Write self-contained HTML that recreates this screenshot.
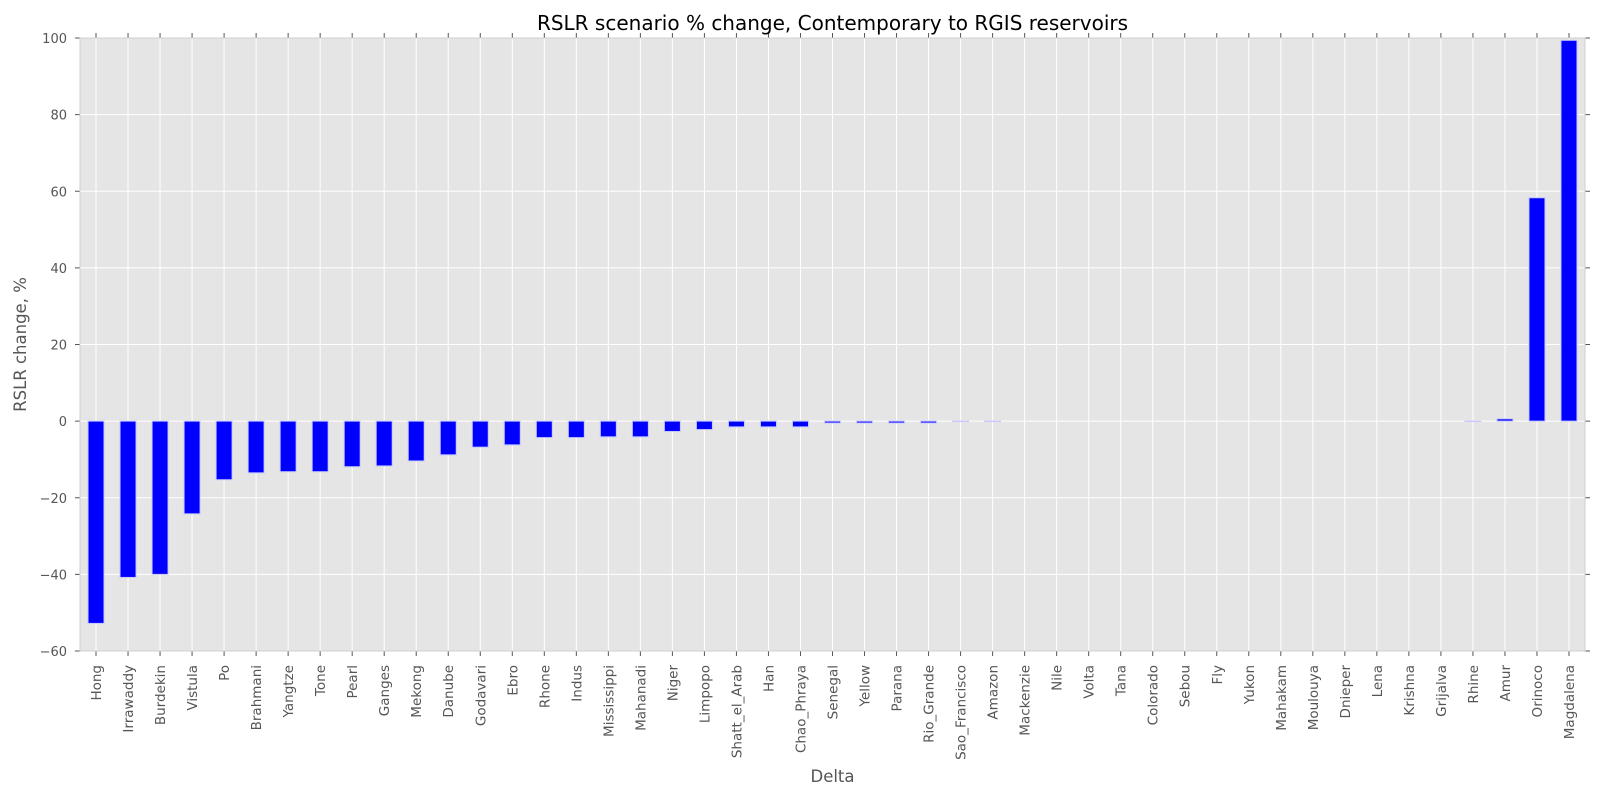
<!DOCTYPE html>
<html><head><meta charset="utf-8"><style>
html,body{margin:0;padding:0;background:#fff;overflow:hidden;width:1600px;height:800px;}
svg{display:block;}
svg text{font-family:"DejaVu Sans","Liberation Sans",sans-serif;}
</style></head><body>
<svg id="chart" width="1600" height="800" xmlns="http://www.w3.org/2000/svg"></svg>
<script>
const categories=["Hong","Irrawaddy","Burdekin","Vistula","Po","Brahmani","Yangtze","Tone","Pearl","Ganges","Mekong","Danube","Godavari","Ebro","Rhone","Indus","Mississippi","Mahanadi","Niger","Limpopo","Shatt_el_Arab","Han","Chao_Phraya","Senegal","Yellow","Parana","Rio_Grande","Sao_Francisco","Amazon","Mackenzie","Nile","Volta","Tana","Colorado","Sebou","Fly","Yukon","Mahakam","Moulouya","Dnieper","Lena","Krishna","Grijalva","Rhine","Amur","Orinoco","Magdalena"];
const values=[-52.8,-40.8,-40,-24.2,-15.3,-13.5,-13.2,-13.2,-11.9,-11.7,-10.4,-8.8,-6.8,-6.2,-4.3,-4.3,-4.1,-4.1,-2.7,-2.2,-1.5,-1.5,-1.5,-0.5,-0.5,-0.5,-0.5,-0.1,-0.1,0,0,0,0,0,0,0,0,0,0,0,0,0,0,-0.1,0.6,58.3,99.4];
const yTicks=[-60,-40,-20,0,20,40,60,80,100];
const L=80,R=1585,T=38,B=651,ymin=-60,ymax=100;
const svg=document.getElementById('chart');
const NS="http://www.w3.org/2000/svg";
function y(v){return B-(v-ymin)/(ymax-ymin)*(B-T);}
const step=(R-L)/categories.length;
function x(i){return L+step*(i+0.5);}
function mk(tag,attrs,parent){const e=document.createElementNS(NS,tag);for(const k in attrs)e.setAttribute(k,attrs[k]);(parent||svg).appendChild(e);return e;}
const bg=mk('rect',{x:L,y:T,width:R-L,height:B-T,fill:'#e5e5e5'});


yTicks.forEach(t=>{
  const g=mk('line',{x1:L,x2:R,y1:y(t),y2:y(t),stroke:'#fff','stroke-width':1});
  
  
  mk('line',{x1:L,x2:L-5,y1:y(t),y2:y(t),stroke:'#555'});
  mk('line',{x1:R,x2:R+5,y1:y(t),y2:y(t),stroke:'#555'});
  const lb=mk('text',{x:L-13,y:y(t)+5,'text-anchor':'end','font-size':13,fill:'#555'});
  lb.textContent=(t<0?'\u2212'+(-t):t);
  
  
});
categories.forEach((c,i)=>{
  const g=mk('line',{x1:x(i),x2:x(i),y1:T,y2:B,stroke:'#fff','stroke-width':1});
  
  
});
categories.forEach((c,i)=>{
  const v=values[i];
  const bw=step*0.5;
  const r=mk('rect',{x:x(i)-bw/2,y:Math.min(y(v),y(0)),width:bw,height:Math.abs(y(v)-y(0)),fill:'#0000ff',stroke:'#c8c8ff','stroke-width':1});
  
  
  mk('line',{x1:x(i),x2:x(i),y1:B,y2:B+5,stroke:'#555'});
  mk('line',{x1:x(i),x2:x(i),y1:T,y2:T-5,stroke:'#555'});
  const lb=mk('text',{transform:`translate(${x(i)+5},${B+14}) rotate(-90)`,'text-anchor':'end','font-size':13.5,fill:'#555'});
  lb.textContent=c;
  
  
});
const fr=mk('rect',{x:L,y:T,width:R-L,height:B-T,fill:'none',stroke:'#d0d0d0'});


const ti=mk('text',{x:(L+R)/2,y:30,'text-anchor':'middle','font-size':20,fill:'#000'});
ti.textContent='RSLR scenario % change, Contemporary to RGIS reservoirs';


const xt=mk('text',{x:(L+R)/2,y:782,'text-anchor':'middle','font-size':16.5,fill:'#555'});
xt.textContent='Delta';


const yt=mk('text',{transform:`translate(26,${(T+B)/2}) rotate(-90)`,'text-anchor':'middle','font-size':16.5,fill:'#555'});
yt.textContent='RSLR change, %';


</script>
</body></html>
